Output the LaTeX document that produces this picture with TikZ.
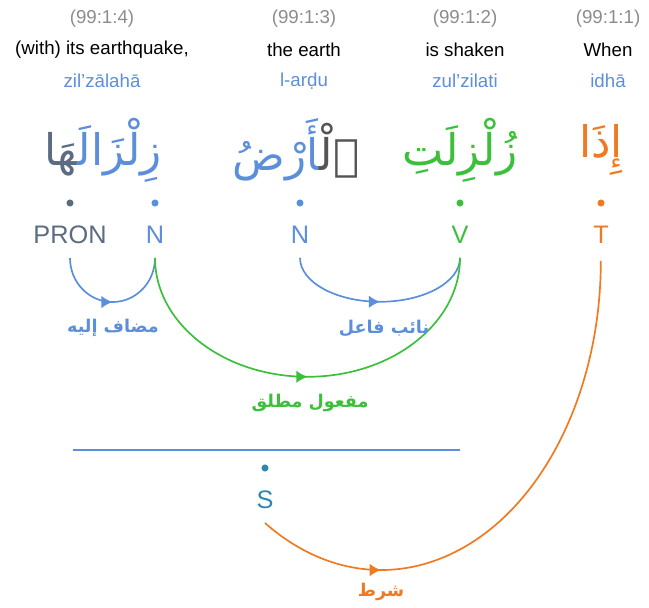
\documentclass[tikz,border=0pt]{standalone}
\usepackage{fontspec}
\setmainfont{Liberation Sans}
\newfontfamily\arabicfont[Script=Arabic]{DejaVu Sans}
\TeXXeTstate=1
\usetikzlibrary{arrows.meta, decorations.markings, positioning}

\definecolor{refgray}{HTML}{8C8C8C}
\definecolor{nounblue}{HTML}{5B8FDB}
\definecolor{verbgreen}{HTML}{3CC03C}
\definecolor{partorange}{HTML}{F07A22}
\definecolor{pronslate}{HTML}{5B6B82}
\definecolor{detgray}{HTML}{555555}
\definecolor{sentteal}{HTML}{2E87AE}

\newcommand{\arjoin}{^^^^200d} % zero width joiner, keeps the letters joined across a colour change

\begin{document}
\begin{tikzpicture}[
    x=0.025cm, y=0.025cm, % one unit is one pixel of the layout
    >=Latex, % Set default arrow tip style
    refno/.style={text=refgray, font=\fontsize{13.3}{15}\selectfont}, % word location
    gloss/.style={text=black, font=\fontsize{13.3}{15}\selectfont}, % english meaning
    translit/.style={text=nounblue, font=\fontsize{13.3}{15}\selectfont},
    word/.style={font=\arabicfont\fontsize{31}{36}\selectfont}, % arabic word
    dot/.style={circle, fill, inner sep=0pt, minimum size=5pt},
    tag/.style={font=\fontsize{18}{20}\selectfont, inner sep=0pt, outer sep=10pt}, % part of speech
    rel/.style={font=\arabicfont\bfseries\fontsize{12.5}{14}\selectfont}, % relation name
    link/.style={line width=1.2pt, postaction={decorate, decoration={markings,
        mark=at position #1 with {\arrow{Latex[length=8pt,width=9pt]}}}}},
    link/.default=0.5
]

    \useasboundingbox (0,0) rectangle (649,-607);

    % Locations
    \node[refno] (loc4) at (102,-19) {(99:1:4)};
    \node[refno] (loc3) at (304,-19) {(99:1:3)};
    \node[refno] (loc2) at (465,-19) {(99:1:2)};
    \node[refno] (loc1) at (608,-19) {(99:1:1)};

    % Translation
    \node[gloss] (en4) at (102,-50) {(with) its earthquake,};
    \node[gloss] (en3) at (304,-50) {the earth};
    \node[gloss] (en2) at (465,-50) {is shaken};
    \node[gloss] (en1) at (608,-50) {When};

    % Transliteration
    \node[translit] (tr4) at (102,-81) {zil'zālahā};
    \node[translit] (tr3) at (304,-81) {l-arḍu};
    \node[translit] (tr2) at (465,-81) {zul'zilati};
    \node[translit] (tr1) at (608,-81) {idhā};

    % Arabic words, segments coloured by tag
    \node[word] (w4) at (103,-150) {\textcolor{pronslate}{\arjoin هَا}\textcolor{nounblue}{زِلْزَالَ\arjoin}};
    \node[word] (w3) at (296,-150) {\textcolor{nounblue}{\arjoin أَرْضُ}\textcolor{detgray}{ٱلْ\arjoin}};
    \node[word] (w2) at (460,-150) {\textcolor{verbgreen}{زُلْزِلَتِ}};
    \node[word] (w1) at (601,-150) {\textcolor{partorange}{إِذَا}};

    % Dots
    \node[dot, pronslate] (d5) at (70,-203) {};
    \node[dot, nounblue] (d4) at (155,-203) {};
    \node[dot, nounblue] (d3) at (300,-203) {};
    \node[dot, verbgreen] (d2) at (460,-203) {};
    \node[dot, partorange] (d1) at (601,-203) {};

    % Tags
    \node[tag, text=pronslate] (pron) at (70,-235) {PRON};
    \node[tag, text=nounblue] (n4) at (155,-235) {N};
    \node[tag, text=nounblue] (n3) at (300,-235) {N};
    \node[tag, text=verbgreen] (v2) at (460,-235) {V};
    \node[tag, text=partorange] (t1) at (601,-235) {T};

    % Sentence
    \coordinate (bl) at (73,-450);
    \coordinate (br) at (460,-450);
    \draw[nounblue, line width=1.4pt] (bl) -- (br);
    \node[dot, sentteal] (ds) at (265,-468) {};
    \node[tag, text=sentteal] (s) at (265,-500) {S};

    % Dependency arcs
    \draw[link, nounblue] (pron.south) arc[start angle=180, end angle=360, x radius=42.5, y radius=44];
    \draw[link, nounblue] (n3.south) arc[start angle=180, end angle=360, x radius=80, y radius=44];
    \draw[link, verbgreen] (n4.south) arc[start angle=180, end angle=360, x radius=152.5, y radius=119];
    \draw[link=0.234, partorange] (s.south) arc[start angle=238, end angle=360, x radius=219.5, y radius=309];

    % Relation labels
    \node[rel, text=nounblue] (idafa) at (113,-328) {\beginR مضاف إليه\endR};
    \node[rel, text=nounblue] (naib) at (384,-328) {\beginR نائب فاعل\endR};
    \node[rel, text=verbgreen] (mutlaq) at (310,-403) {\beginR مفعول مطلق\endR};
    \node[rel, text=partorange] (shart) at (381,-592) {\beginR شرط\endR};

\end{tikzpicture}
\end{document}
